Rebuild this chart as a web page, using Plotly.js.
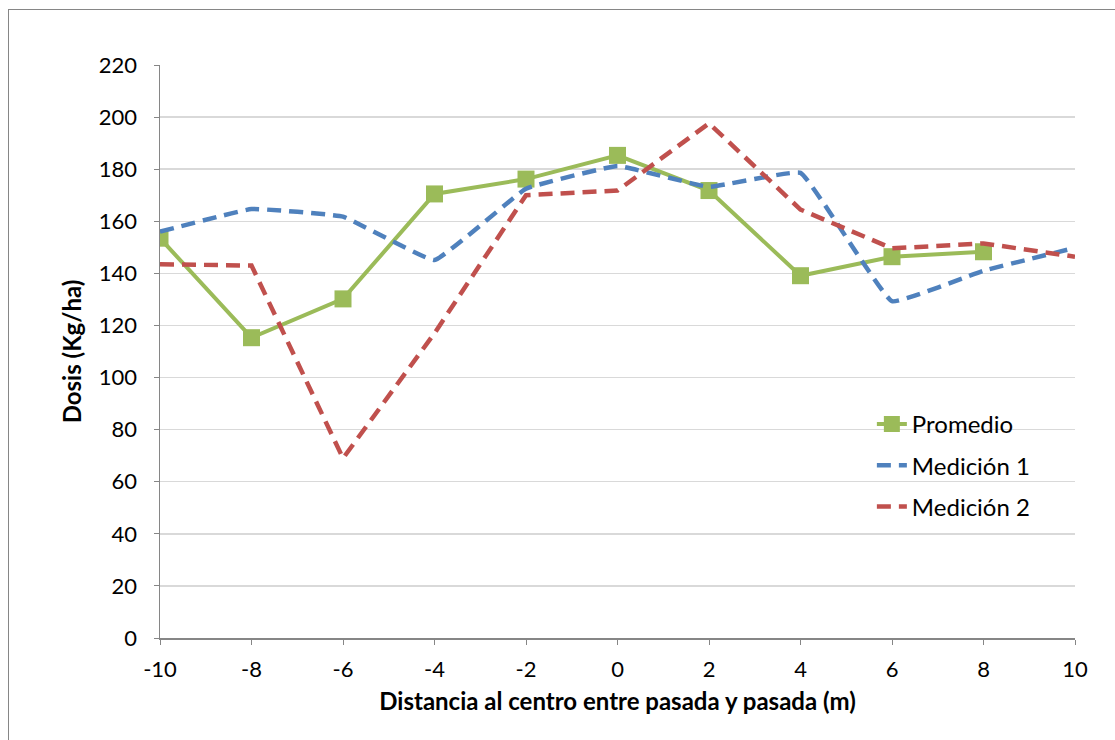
<!DOCTYPE html>
<html>
<head>
<meta charset="utf-8">
<script src="https://cdn.plot.ly/plotly-3.0.1.min.js"></script>
<style>
  html, body { margin: 0; padding: 0; background: #fff; }
  #wrap { position: relative; width: 1115px; height: 740px; }
  #chart { position: absolute; left: 0; top: 0; width: 1115px; height: 740px; }
  #frame { position: absolute; left: 8px; top: 9px; width: 1120px; height: 740px; border: 1px solid #868686; pointer-events: none; }
</style>
</head>
<body>
<div id="wrap">
  <div id="chart"></div>
  <div id="frame"></div>
</div>
<script>
const distancias = [-10, -8, -6, -4, -2, 0, 2, 4, 6, 8, 10];
const promedio  = [153.5, 115.3, 130.2, 170.5, 176.2, 185.3, 171.8, 139.1, 146.4, 148.3, null];
const medicion1 = [156, 164.7, 161.8, 145.1, 172.5, 181.2, 173.2, 178.6, 129.3, 141, 149.8];
const medicion2 = [143.5, 143, 69, 117, 170, 171.8, 197.6, 164.5, 149.6, 151.5, 146.4];
const yTicks = [0, 20, 40, 60, 80, 100, 120, 140, 160, 180, 200, 220];
const xTicks = [-10, -8, -6, -4, -2, 0, 2, 4, 6, 8, 10];

const FONT = 'Lato, "Open Sans", "DejaVu Sans", sans-serif';

const traces = [
  {
    x: distancias, y: promedio, name: 'Promedio', type: 'scatter', mode: 'lines+markers',
    line: { color: '#9BBB59', width: 4 },
    marker: { symbol: 'square', size: 17, color: '#9BBB59' },
    legendgroup: 'a'
  },
  {
    x: distancias, y: medicion1, name: 'Medición 1', type: 'scatter', mode: 'lines',
    line: { color: '#4F81BD', width: 4.5, dash: '14px,8px', shape: 'spline', smoothing: 0.25 },
    legendgroup: 'b'
  },
  {
    x: distancias, y: medicion2, name: 'Medición 2', type: 'scatter', mode: 'lines',
    line: { color: '#C0504D', width: 4.5, dash: '14px,8px' },
    legendgroup: 'c'
  }
];

const layout = {
  width: 1115, height: 740,
  margin: { l: 160, r: 40, t: 65, b: 102 },
  paper_bgcolor: 'rgba(0,0,0,0)', plot_bgcolor: '#fff',
  font: { family: FONT, size: 22, color: '#000' },
  showlegend: true,
  legend: {
    x: 0.778, y: 0.412, xanchor: 'left', yanchor: 'top',
    traceorder: 'grouped', tracegroupgap: 7,
    bgcolor: 'rgba(255,255,255,0)',
    font: { family: FONT, size: 24, color: '#000' }
  },
  xaxis: {
    range: [-10, 10], tickvals: xTicks, ticktext: xTicks.map(String),
    showgrid: false, zeroline: false,
    showline: true, linecolor: '#868686', linewidth: 1.5,
    ticks: 'outside', ticklen: 5, tickcolor: '#868686',
    ticklabelstandoff: 6,
    tickfont: { family: FONT, size: 22 },
    title: { text: '<b>Distancia al centro entre pasada y pasada (m)</b>', font: { family: FONT, size: 24 }, standoff: 12 }
  },
  yaxis: {
    range: [0, 220], tickvals: yTicks, ticktext: yTicks.map(String),
    showgrid: true, gridcolor: '#d9d9d9', gridwidth: 1.5, zeroline: false,
    showline: true, linecolor: '#868686', linewidth: 1.5,
    ticks: 'outside', ticklen: 5, tickcolor: '#868686',
    ticklabelstandoff: 12,
    tickfont: { family: FONT, size: 22 },
    title: { text: '<b>Dosis (Kg/ha)</b>', font: { family: FONT, size: 24 }, standoff: 10 }
  }
};

Plotly.newPlot('chart', traces, layout, { displayModeBar: false, staticPlot: true });
</script>
</body>
</html>
